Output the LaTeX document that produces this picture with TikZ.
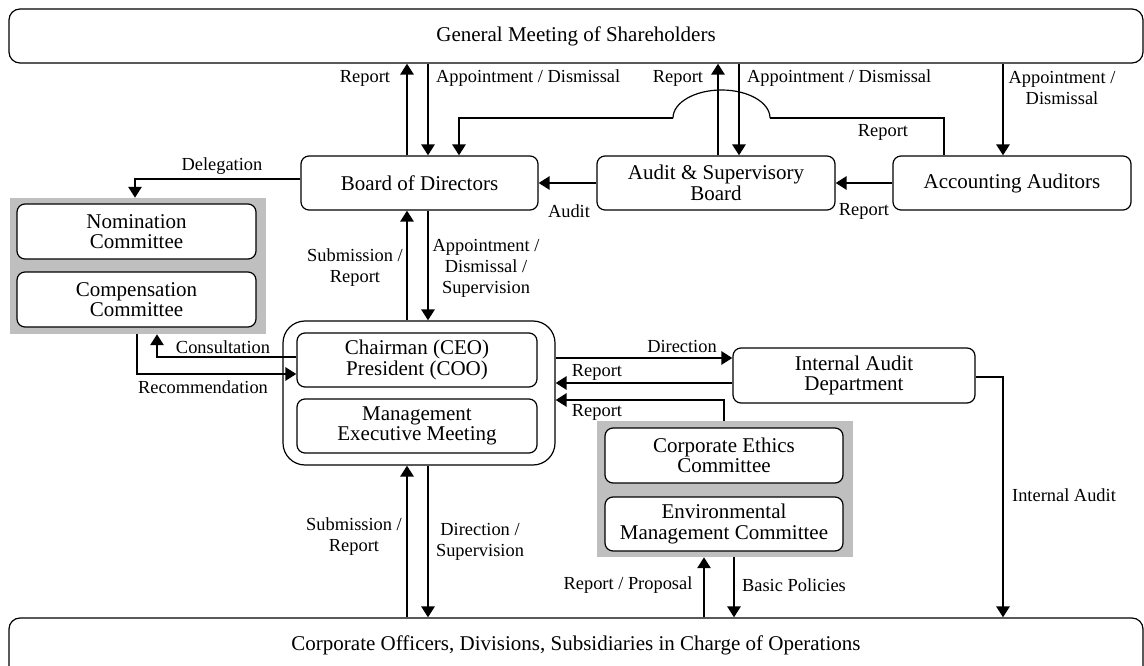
\documentclass[tikz,border=0pt]{standalone}
\usepackage{fontspec}
\setmainfont{Liberation Serif}
\usetikzlibrary{arrows.meta}
\definecolor{grpgray}{HTML}{BFBFBF}
\begin{document}
\begin{tikzpicture}[x=1pt,y=-1pt,
  box/.style={draw, line width=1.2pt, rounded corners=8pt, align=center, inner sep=0pt,
    font=\fontsize{21}{20.5}\selectfont},
  bigbox/.style={box, rounded corners=11pt},
  lbl/.style={align=center, inner sep=0pt, font=\fontsize{18.4}{21}\selectfont},
  arr/.style={line width=2.7pt, -{Triangle[width=13pt,length=11pt]}},
  ln/.style={line width=2.7pt},
  thin/.style={line width=1.2pt},
  grp/.style={fill=grpgray, draw=none, inner sep=0pt}]
\useasboundingbox (0,0) rectangle (1144,666);
\clip (0,0) rectangle (1144,666);

% groups and container
\node[grp, minimum width=256pt, minimum height=136pt] (g1) at (138,266) {};
\node[grp, minimum width=256pt, minimum height=136pt] (g2) at (725,489) {};
\node[draw, line width=1.2pt, rounded corners=22pt, minimum width=272pt, minimum height=144pt, inner sep=0pt] (ctr) at (419,393) {};

% boxes
\node[bigbox, minimum width=1134pt, minimum height=54pt] (gms) at (576,36) {General Meeting of Shareholders};
\node[bigbox, minimum width=1134pt, minimum height=60pt, text depth=10.6pt] (bot) at (576,648) {Corporate Officers, Divisions, Subsidiaries in Charge of Operations};
\node[box, minimum width=237pt, minimum height=54pt] (bod) at (419.5,183) {Board of Directors};
\node[box, minimum width=238pt, minimum height=54pt] (asb) at (716,183) {Audit \& Supervisory\\Board};
\node[box, minimum width=238pt, minimum height=54pt] (aa) at (1012,183) {Accounting Auditors};
\node[box, fill=white, minimum width=239pt, minimum height=55pt] (nom) at (136.5,231.5) {Nomination\\Committee};
\node[box, fill=white, minimum width=239pt, minimum height=55pt] (comp) at (136.5,299.5) {Compensation\\Committee};
\node[box, minimum width=240pt, minimum height=54pt] (chair) at (417,360) {Chairman (CEO)\\President (COO)};
\node[box, minimum width=240pt, minimum height=54pt] (mem) at (417,426) {Management\\Executive Meeting};
\node[box, minimum width=242pt, minimum height=55pt] (iad) at (854,375.5) {Internal Audit\\Department};
\node[box, fill=white, minimum width=238pt, minimum height=55pt] (cec) at (724,455.5) {Corporate Ethics\\Committee};
\node[box, fill=white, minimum width=238pt, minimum height=54pt] (emc) at (724,524) {Environmental\\Management Committee};

% top connectors
\draw[arr] (bod.north -| 407,0) -- (gms.south -| 407,0);
\draw[arr] (gms.south -| 428,0) -- (bod.north -| 428,0);
\draw[arr] (asb.north -| 718,0) -- (gms.south -| 718,0);
\draw[arr] (gms.south -| 739,0) -- (asb.north -| 739,0);
\draw[arr] (gms.south -| 1003,0) -- (aa.north -| 1003,0);
\draw[arr] (aa.west) -- (asb.east);
\draw[arr] (asb.west) -- (bod.east);

% report from accounting auditors to board, with jump
\coordinate (jr) at (770,118);
\coordinate (jl) at (673,118);
\draw[ln] (aa.north -| 944,0) |- (jr);
\draw[thin] (jr) arc[start angle=0, end angle=-180, x radius=48.5, y radius=28];
\draw[arr] (jl) -| (bod.north -| 459,0);

% delegation and committees
\draw[arr] (bod.west |- 0,179) -| (g1.north -| 135,0);
\draw[arr] (chair.west |- 0,357) -| (g1.south -| 157,0);
\draw[arr] (g1.south -| 137,0) |- (chair.west |- 0,374);

% board <-> management
\draw[arr] (ctr.north -| 407,0) -- (bod.south -| 407,0);
\draw[arr] (bod.south -| 428,0) -- (ctr.north -| 428,0);
\draw[arr] (bot.north -| 407,0) -- (ctr.south -| 407,0);
\draw[arr] (ctr.south -| 428,0) -- (bot.north -| 428,0);

% internal audit
\draw[arr] (ctr.east |- 0,358) -- (iad.west |- 0,358);
\draw[arr] (iad.west |- 0,383) -- (ctr.east |- 0,383);
\draw[arr] (g2.north -| 724,0) |- (ctr.east |- 0,400);
\draw[arr] (iad.east |- 0,377) -| (bot.north -| 1003,0);

% ethics/environment
\draw[arr] (bot.north -| 704,0) -- (g2.south -| 704,0);
\draw[arr] (g2.south -| 734,0) -- (bot.north -| 734,0);

% labels
\node[lbl] (l1) at (365,78) {Report};
\node[lbl, anchor=west] (l2) at (436,78) {Appointment / Dismissal};
\node[lbl] (l3) at (678,78) {Report};
\node[lbl, anchor=west] (l4) at (747,78) {Appointment / Dismissal};
\node[lbl] (l5) at (1062,88) {Appointment /\\Dismissal};
\node[lbl] (l6) at (883,132) {Report};
\node[lbl] (l7) at (864,211) {Report};
\node[lbl] (l8) at (569,211) {Audit};
\node[lbl] (l9) at (222,166) {Delegation};
\node[lbl] (l10) at (355,268) {Submission /\\Report};
\node[lbl] (l11) at (486,268) {Appointment /\\Dismissal /\\Supervision};
\node[lbl] (l12) at (223,347) {Consultation};
\node[lbl] (l13) at (203,387) {Recommendation};
\node[lbl] (l14) at (682,346) {Direction};
\node[lbl] (l15) at (597,372) {Report};
\node[lbl] (l16) at (597,412) {Report};
\node[lbl] (l17) at (354,537) {Submission /\\Report};
\node[lbl] (l18) at (480,542) {Direction /\\Supervision};
\node[lbl] (l19) at (628,585) {Report / Proposal};
\node[lbl] (l20) at (794,585) {Basic Policies};
\node[lbl] (l21) at (1064,495) {Internal Audit};
\end{tikzpicture}
\end{document}
